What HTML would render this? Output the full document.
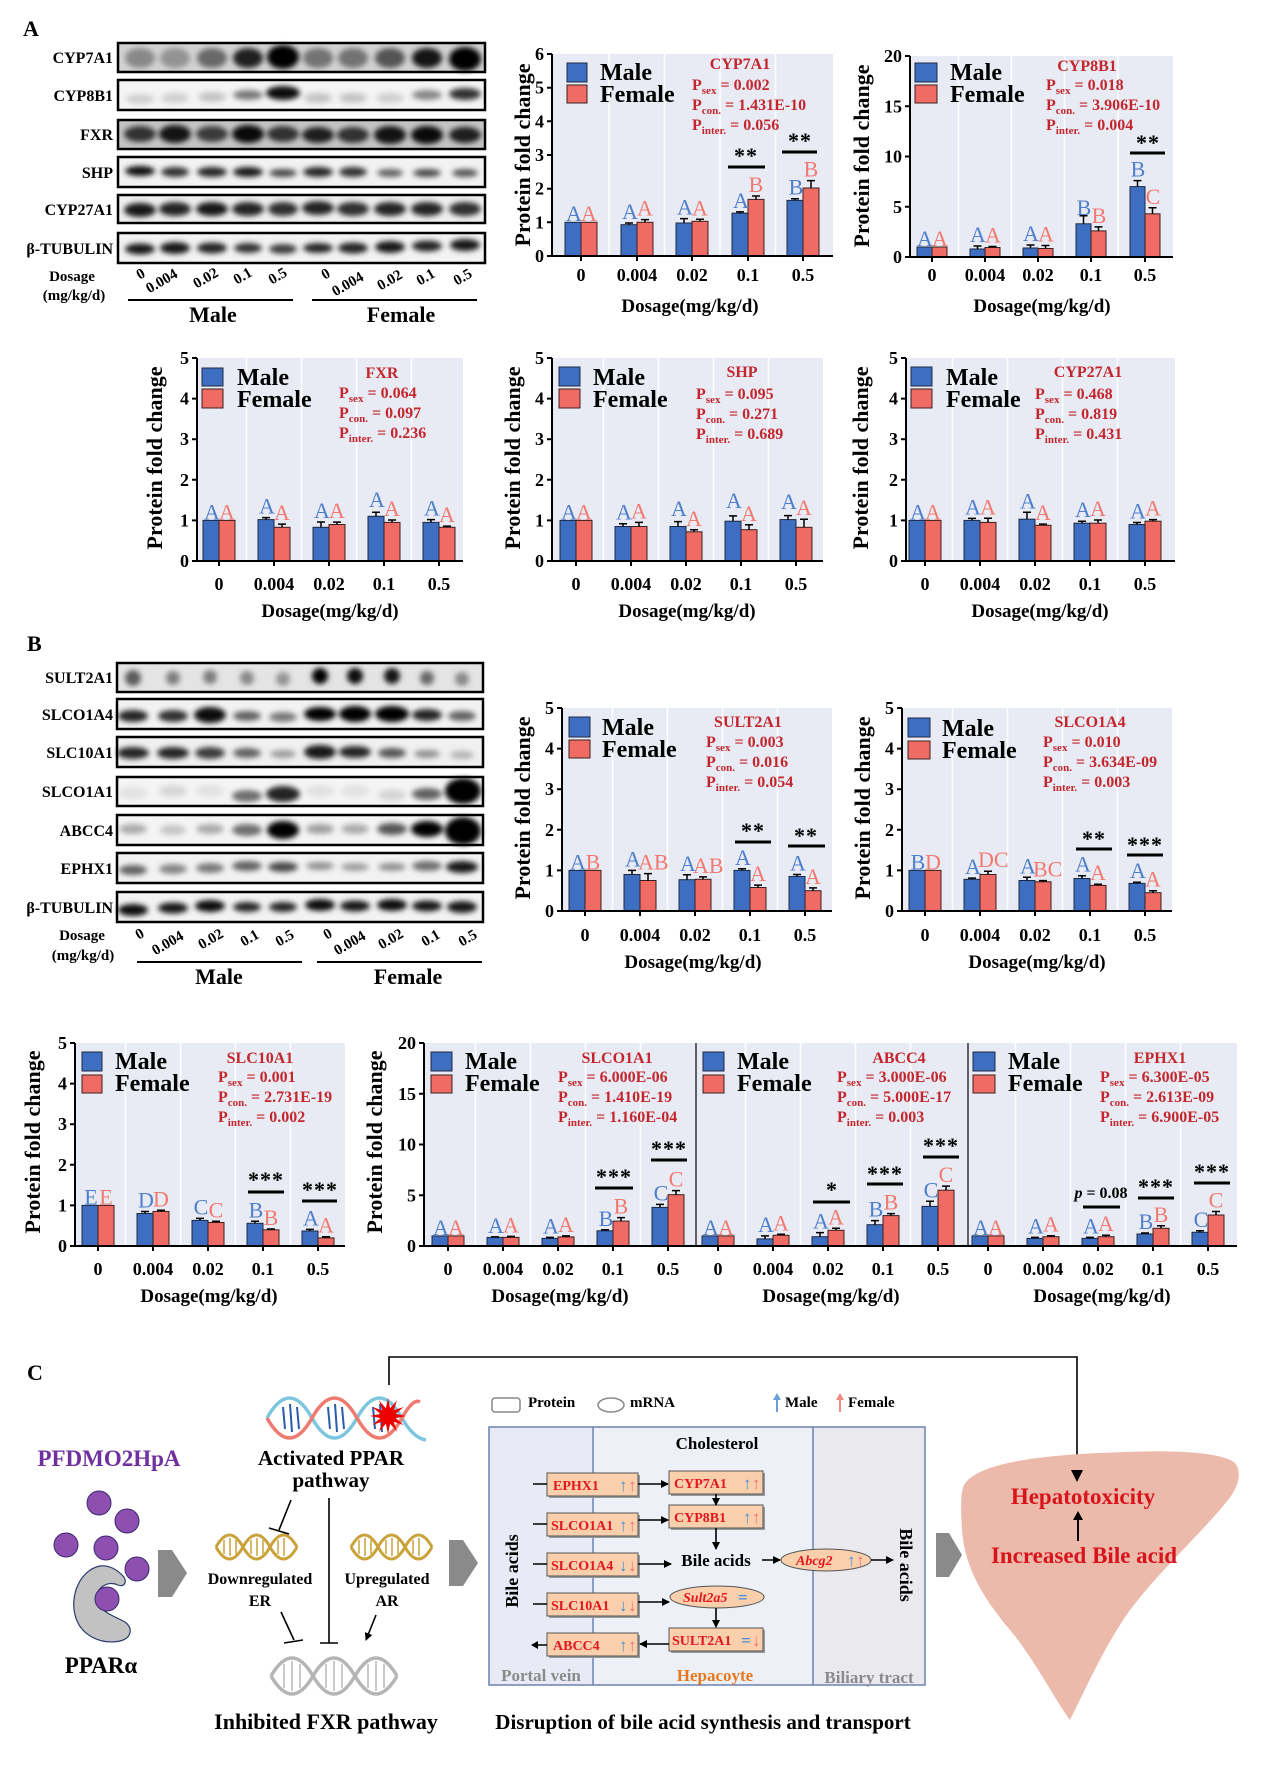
<!DOCTYPE html>
<html><head><meta charset="utf-8">
<style>
html,body{margin:0;padding:0;background:#fff}
svg{display:block}
svg text{font-family:"Liberation Serif","DejaVu Serif",serif;font-weight:bold}
.tk{font-size:18px}
.xt{font-size:19px}
.yl{font-size:22px}
.lg{font-size:24px}
.s{font-size:16px;fill:#c3262c}
.s tspan:first-child{font-size:11px}
.m{fill:#3e6ec1;stroke:#1c2a44;stroke-width:1}
.f{fill:#ef6b63;stroke:#3a2020;stroke-width:1}
.ml{fill:#4d7fcc;font-weight:normal!important;font-size:22px}
.fl{fill:#f27970;font-weight:normal!important;font-size:22px}
.ax{stroke:#000;stroke-width:2;fill:none}
.er{stroke:#000;stroke-width:1.5;fill:none}
.sg{stroke:#000;stroke-width:3}
.ast{font-size:22px;letter-spacing:1px}
.bl{font-size:16px}
.bx{fill:none;stroke:#000;stroke-width:2.5}
.dl{font-size:15px}
.pb{fill:#f9cfac;stroke:#555;stroke-width:1}
.pt{font-size:14px;fill:#e3161d}
.ln{stroke:#000;stroke-width:1.6;fill:none}
</style></head>
<body>
<svg width="1271" height="1770" viewBox="0 0 1271 1770" xmlns="http://www.w3.org/2000/svg">
<defs>
<filter id="bl" x="-60%" y="-60%" width="220%" height="220%"><feGaussianBlur stdDeviation="2.6"/></filter>
<marker id="ah" markerWidth="8" markerHeight="8" refX="7" refY="4" orient="auto" markerUnits="userSpaceOnUse"><path d="M0,0 L8,4 L0,8 z" fill="#000"/></marker>
</defs>
<rect width="1271" height="1770" fill="#fff"/>

<!-- ============ SECTION A BLOTS ============ -->
<text x="23" y="36" style="font-size:22px">A</text>
<g text-anchor="end" class="bl">
<text x="113" y="63" class="bl">CYP7A1</text>
<text x="113" y="101" class="bl">CYP8B1</text>
<text x="113" y="140" class="bl">FXR</text>
<text x="113" y="178" class="bl">SHP</text>
<text x="113" y="215" class="bl">CYP27A1</text>
<text x="113" y="254" class="bl">β-TUBULIN</text>
</g>
<rect x="118" y="43" width="367" height="29" fill="#d2d2d2"/>
<rect x="118" y="80" width="367" height="30" fill="#f4f4f4"/>
<rect x="118" y="120" width="367" height="29" fill="#c4c4c4"/>
<rect x="118" y="157" width="367" height="30" fill="#f2f2f2"/>
<rect x="118" y="195" width="367" height="28" fill="#eeeeee"/>
<rect x="118" y="233" width="367" height="30" fill="#f2f2f2"/>
<g filter="url(#bl)" fill="#000">
<ellipse cx="140" cy="58" rx="15" ry="10" opacity="0.35"/>
<ellipse cx="175" cy="58" rx="15" ry="10" opacity="0.3"/>
<ellipse cx="212" cy="58" rx="15" ry="10" opacity="0.5"/>
<ellipse cx="248" cy="58" rx="15" ry="10" opacity="0.85"/>
<ellipse cx="283" cy="57" rx="16" ry="12" opacity="1"/>
<ellipse cx="318" cy="58" rx="15" ry="10" opacity="0.45"/>
<ellipse cx="353" cy="58" rx="15" ry="10" opacity="0.45"/>
<ellipse cx="390" cy="58" rx="15" ry="10" opacity="0.6"/>
<ellipse cx="427" cy="58" rx="15" ry="10" opacity="0.9"/>
<ellipse cx="465" cy="59" rx="16" ry="12" opacity="1"/>
<ellipse cx="140" cy="99" rx="14" ry="5" opacity="0.15"/>
<ellipse cx="175" cy="98" rx="14" ry="5" opacity="0.15"/>
<ellipse cx="212" cy="97" rx="14" ry="5" opacity="0.2"/>
<ellipse cx="248" cy="95" rx="15" ry="5" opacity="0.5"/>
<ellipse cx="283" cy="93" rx="17" ry="7" opacity="0.95"/>
<ellipse cx="318" cy="98" rx="14" ry="5" opacity="0.2"/>
<ellipse cx="353" cy="98" rx="14" ry="5" opacity="0.2"/>
<ellipse cx="390" cy="98" rx="14" ry="5" opacity="0.15"/>
<ellipse cx="427" cy="95" rx="15" ry="5" opacity="0.45"/>
<ellipse cx="465" cy="94" rx="16" ry="6" opacity="0.8"/>
<ellipse cx="140" cy="134" rx="16" ry="8" opacity="0.75"/>
<ellipse cx="175" cy="134" rx="16" ry="9" opacity="0.9"/>
<ellipse cx="212" cy="134" rx="16" ry="8" opacity="0.7"/>
<ellipse cx="248" cy="134" rx="16" ry="9" opacity="0.95"/>
<ellipse cx="283" cy="134" rx="16" ry="8" opacity="0.75"/>
<ellipse cx="318" cy="135" rx="16" ry="8" opacity="0.85"/>
<ellipse cx="353" cy="135" rx="16" ry="8" opacity="0.75"/>
<ellipse cx="390" cy="135" rx="16" ry="9" opacity="0.9"/>
<ellipse cx="427" cy="135" rx="16" ry="9" opacity="0.95"/>
<ellipse cx="465" cy="135" rx="16" ry="8" opacity="0.85"/>
<ellipse cx="140" cy="171" rx="15" ry="5" opacity="0.95"/>
<ellipse cx="175" cy="172" rx="14" ry="5" opacity="0.8"/>
<ellipse cx="212" cy="172" rx="15" ry="5" opacity="0.85"/>
<ellipse cx="248" cy="172" rx="15" ry="5" opacity="0.9"/>
<ellipse cx="283" cy="173" rx="14" ry="4" opacity="0.7"/>
<ellipse cx="318" cy="172" rx="15" ry="5" opacity="0.85"/>
<ellipse cx="353" cy="172" rx="14" ry="5" opacity="0.8"/>
<ellipse cx="390" cy="173" rx="13" ry="4" opacity="0.6"/>
<ellipse cx="427" cy="173" rx="14" ry="4" opacity="0.7"/>
<ellipse cx="465" cy="173" rx="13" ry="4" opacity="0.65"/>
<ellipse cx="140" cy="210" rx="16" ry="7" opacity="0.9"/>
<ellipse cx="175" cy="209" rx="16" ry="7" opacity="0.85"/>
<ellipse cx="212" cy="209" rx="16" ry="7" opacity="0.9"/>
<ellipse cx="248" cy="209" rx="16" ry="7" opacity="0.85"/>
<ellipse cx="283" cy="209" rx="15" ry="7" opacity="0.8"/>
<ellipse cx="318" cy="208" rx="16" ry="7" opacity="0.85"/>
<ellipse cx="353" cy="209" rx="16" ry="7" opacity="0.8"/>
<ellipse cx="390" cy="209" rx="16" ry="7" opacity="0.85"/>
<ellipse cx="427" cy="209" rx="16" ry="7" opacity="0.85"/>
<ellipse cx="465" cy="209" rx="16" ry="7" opacity="0.8"/>
<ellipse cx="140" cy="249" rx="15" ry="5.5" opacity="0.9"/>
<ellipse cx="175" cy="248" rx="15" ry="6" opacity="0.9"/>
<ellipse cx="212" cy="248" rx="15" ry="5.5" opacity="0.85"/>
<ellipse cx="248" cy="248" rx="14" ry="5" opacity="0.8"/>
<ellipse cx="283" cy="249" rx="14" ry="5" opacity="0.75"/>
<ellipse cx="318" cy="248" rx="15" ry="5" opacity="0.85"/>
<ellipse cx="353" cy="248" rx="15" ry="5.5" opacity="0.85"/>
<ellipse cx="390" cy="247" rx="15" ry="6" opacity="0.9"/>
<ellipse cx="427" cy="246" rx="15" ry="5.5" opacity="0.85"/>
<ellipse cx="465" cy="245" rx="15" ry="6" opacity="0.9"/>
</g>
<rect x="118" y="43" width="367" height="29" class="bx"/>
<rect x="118" y="80" width="367" height="30" class="bx"/>
<rect x="118" y="120" width="367" height="29" class="bx"/>
<rect x="118" y="157" width="367" height="30" class="bx"/>
<rect x="118" y="195" width="367" height="28" class="bx"/>
<rect x="118" y="233" width="367" height="30" class="bx"/>
<text x="72" y="281" text-anchor="middle" class="dl">Dosage</text>
<text x="74" y="300" text-anchor="middle" class="dl">(mg/kg/d)</text>
<g class="dl" text-anchor="middle">
<text transform="translate(143,278) rotate(-30)" class="dl">0</text>
<text transform="translate(164,285) rotate(-30)" class="dl">0.004</text>
<text transform="translate(208,282) rotate(-30)" class="dl">0.02</text>
<text transform="translate(245,280) rotate(-30)" class="dl">0.1</text>
<text transform="translate(280,280) rotate(-30)" class="dl">0.5</text>
<text transform="translate(328,278) rotate(-30)" class="dl">0</text>
<text transform="translate(350,288) rotate(-30)" class="dl">0.004</text>
<text transform="translate(392,284) rotate(-30)" class="dl">0.02</text>
<text transform="translate(428,281) rotate(-30)" class="dl">0.1</text>
<text transform="translate(465,281) rotate(-30)" class="dl">0.5</text>
</g>
<path d="M128 300H293M312 300H477" stroke="#000" stroke-width="2"/>
<text x="213" y="322" text-anchor="middle" style="font-size:22px">Male</text>
<text x="401" y="322" text-anchor="middle" style="font-size:22px">Female</text>

<!-- ============ CHART CYP7A1 ============ -->
<rect x="553" y="54" width="280" height="201" fill="#e9ebf4"/>
<path d="M609 54V256M664.5 54V256M720 54V256M775.5 54V256" stroke="#fff" stroke-width="1.5"/>
<rect class="m" x="565" y="222.3" width="16" height="33.7"/>
<rect class="m" x="621" y="224.7" width="16" height="31.3"/>
<rect class="m" x="676" y="223" width="16" height="33"/>
<rect class="m" x="732" y="213.2" width="16" height="42.8"/>
<rect class="m" x="787" y="200.4" width="16" height="55.6"/>
<rect class="f" x="581" y="222.3" width="16" height="33.7"/>
<rect class="f" x="637" y="222.3" width="16" height="33.7"/>
<rect class="f" x="692" y="221.3" width="16" height="34.7"/>
<rect class="f" x="748" y="199.4" width="16" height="56.6"/>
<rect class="f" x="803" y="188" width="16" height="68"/>
<path class="er" d="M629 224.7V223M625 223H633M684 223V218.6M680 218.6H688M740 213.2V211.9M736 211.9H744M795 200.4V198.7M791 198.7H799M645 222.3V219.6M641 219.6H649M700 221.3V219.3M696 219.3H704M756 199.4V196M752 196H760M811 188V180.6M807 180.6H815"/>
<path class="ax" d="M552 54V256H833M547 256H552M547 222.3H552M547 188.7H552M547 155H552M547 121.3H552M547 87.7H552M547 54H552M581 256V261M637 256V261M692 256V261M748 256V261M803 256V261"/>
<g text-anchor="middle">
<text class="ml" x="574" y="221">A</text><text class="fl" x="589" y="221">A</text>
<text class="ml" x="630" y="219">A</text><text class="fl" x="645" y="215.6">A</text>
<text class="ml" x="685" y="214.6">A</text><text class="fl" x="700" y="215.3">A</text>
<text class="ml" x="741" y="208">A</text><text class="fl" x="756" y="192">B</text>
<text class="ml" x="796" y="194.7">B</text><text class="fl" x="811" y="176.6">B</text>
<text class="ast" x="746" y="163">**</text><text class="ast" x="800" y="148">**</text>
</g>
<path class="sg" d="M728 167H765M782 152H817"/>
<g class="tk" text-anchor="end"><text class="tk" x="544" y="262">0</text><text class="tk" x="544" y="228.3">1</text><text class="tk" x="544" y="194.7">2</text><text class="tk" x="544" y="161">3</text><text class="tk" x="544" y="127.3">4</text><text class="tk" x="544" y="93.7">5</text><text class="tk" x="544" y="60">6</text></g>
<g text-anchor="middle"><text class="tk" x="581" y="281">0</text><text class="tk" x="637" y="281">0.004</text><text class="tk" x="692" y="281">0.02</text><text class="tk" x="748" y="281">0.1</text><text class="tk" x="803" y="281">0.5</text></g>
<text class="xt" x="690" y="312" text-anchor="middle">Dosage(mg/kg/d)</text>
<text class="yl" transform="translate(530,155) rotate(-90)" text-anchor="middle">Protein fold change</text>
<rect class="m" x="567" y="63" width="20" height="19"/><rect class="f" x="567" y="85" width="20" height="18"/>
<text class="lg" x="600" y="80">Male</text><text class="lg" x="600" y="102">Female</text>
<text class="s" x="740" y="69" text-anchor="middle">CYP7A1</text>
<text class="s" x="692" y="90">P<tspan font-size="11" dy="4">sex</tspan><tspan dy="-4"> = 0.002</tspan></text>
<text class="s" x="692" y="110">P<tspan font-size="11" dy="4">con.</tspan><tspan dy="-4"> = 1.431E-10</tspan></text>
<text class="s" x="692" y="130">P<tspan font-size="11" dy="4">inter.</tspan><tspan dy="-4"> = 0.056</tspan></text>

<!-- ============ CHART CYP8B1 ============ -->
<rect x="911" y="56" width="262" height="200" fill="#e9ebf4"/>
<path d="M958.5 56V257M1011.5 56V257M1064.5 56V257M1118 56V257" stroke="#fff" stroke-width="1.5"/>
<rect class="m" x="917" y="247" width="15" height="10"/>
<rect class="m" x="970" y="249" width="15" height="8"/>
<rect class="m" x="1023" y="248" width="15" height="9"/>
<rect class="m" x="1076" y="223.8" width="15" height="33.2"/>
<rect class="m" x="1130" y="186.6" width="15" height="70.4"/>
<rect class="f" x="932" y="247" width="15" height="10"/>
<rect class="f" x="985" y="247.5" width="15" height="9.5"/>
<rect class="f" x="1038" y="248.5" width="15" height="8.5"/>
<rect class="f" x="1091" y="230.9" width="15" height="26.1"/>
<rect class="f" x="1145" y="213.8" width="15" height="43.2"/>
<path class="er" d="M977.5 249V246M973.5 246H981.5M1030.5 248V245M1026.5 245H1034.5M1083.5 223.8V215.8M1079.5 215.8H1087.5M1137.5 186.6V180.6M1133.5 180.6H1141.5M992.5 247.5V246.5M988.5 246.5H996.5M1045.5 248.5V245.5M1041.5 245.5H1049.5M1098.5 230.9V226.9M1094.5 226.9H1102.5M1152.5 213.8V207.8M1148.5 207.8H1156.5"/>
<path class="ax" d="M910 56V257H1173M905 257H910M905 206.75H910M905 156.5H910M905 106.25H910M905 56H910M932 257V262M985 257V262M1038 257V262M1091 257V262M1145 257V262"/>
<g text-anchor="middle">
<text class="ml" x="925" y="246">A</text><text class="fl" x="940" y="246">A</text>
<text class="ml" x="978" y="242">A</text><text class="fl" x="993" y="242.5">A</text>
<text class="ml" x="1031" y="241">A</text><text class="fl" x="1046" y="241.5">A</text>
<text class="ml" x="1084" y="215">B</text><text class="fl" x="1099" y="223">B</text>
<text class="ml" x="1138" y="176.6">B</text><text class="fl" x="1153" y="203.8">C</text>
<text class="ast" x="1148" y="150">**</text>
</g>
<path class="sg" d="M1130 153H1165"/>
<g text-anchor="end"><text class="tk" x="902" y="263">0</text><text class="tk" x="902" y="212.75">5</text><text class="tk" x="902" y="162.5">10</text><text class="tk" x="902" y="112.25">15</text><text class="tk" x="902" y="62">20</text></g>
<g text-anchor="middle"><text class="tk" x="932" y="281">0</text><text class="tk" x="985" y="281">0.004</text><text class="tk" x="1038" y="281">0.02</text><text class="tk" x="1091" y="281">0.1</text><text class="tk" x="1145" y="281">0.5</text></g>
<text class="xt" x="1042" y="312" text-anchor="middle">Dosage(mg/kg/d)</text>
<text class="yl" transform="translate(869,156) rotate(-90)" text-anchor="middle">Protein fold change</text>
<rect class="m" x="915" y="63" width="22" height="19"/><rect class="f" x="915" y="85" width="22" height="18"/>
<text class="lg" x="950" y="80">Male</text><text class="lg" x="950" y="102">Female</text>
<text class="s" x="1087" y="71" text-anchor="middle">CYP8B1</text>
<text class="s" x="1046" y="90">P<tspan font-size="11" dy="4">sex</tspan><tspan dy="-4"> = 0.018</tspan></text>
<text class="s" x="1046" y="110">P<tspan font-size="11" dy="4">con.</tspan><tspan dy="-4"> = 3.906E-10</tspan></text>
<text class="s" x="1046" y="130">P<tspan font-size="11" dy="4">inter.</tspan><tspan dy="-4"> = 0.004</tspan></text>

<!-- ============ CHART FXR ============ -->
<rect x="198" y="358" width="265" height="202" fill="#e9ebf4"/>
<path d="M246.5 358V561M301.5 358V561M356.5 358V561M411.5 358V561" stroke="#fff" stroke-width="1.5"/>
<rect class="m" x="203" y="520.4" width="16" height="40.6"/>
<rect class="m" x="258" y="519.6" width="16" height="41.4"/>
<rect class="m" x="313" y="527.3" width="16" height="33.7"/>
<rect class="m" x="368" y="516.3" width="16" height="44.7"/>
<rect class="m" x="423" y="522.4" width="16" height="38.6"/>
<rect class="f" x="219" y="520.4" width="16" height="40.6"/>
<rect class="f" x="274" y="527.3" width="16" height="33.7"/>
<rect class="f" x="329" y="524.5" width="16" height="36.5"/>
<rect class="f" x="384" y="522.4" width="16" height="38.6"/>
<rect class="f" x="439" y="527.3" width="16" height="33.7"/>
<path class="er" d="M266 519.6V517.6M262 517.6H270M321 527.3V522M317 522H325M376 516.3V512.3M372 512.3H380M431 522.4V519.6M427 519.6H435M282 527.3V524.1M278 524.1H286M337 524.5V522.1M333 522.1H341M392 522.4V520M388 520H396M447 527.3V526.1M443 526.1H451"/>
<path class="ax" d="M197 358V561H463M192 561H197M192 520.4H197M192 479.8H197M192 439.2H197M192 398.6H197M192 358H197M219 561V566M274 561V566M329 561V566M384 561V566M439 561V566"/>
<g text-anchor="middle">
<text class="ml" x="212" y="519.4">A</text><text class="fl" x="227" y="519.4">A</text>
<text class="ml" x="267" y="513.6">A</text><text class="fl" x="282" y="520.1">A</text>
<text class="ml" x="322" y="518">A</text><text class="fl" x="337" y="518.1">A</text>
<text class="ml" x="377" y="507">A</text><text class="fl" x="392" y="516">A</text>
<text class="ml" x="432" y="515.6">A</text><text class="fl" x="447" y="522.1">A</text>
</g>
<g text-anchor="end"><text class="tk" x="189" y="567">0</text><text class="tk" x="189" y="526.4">1</text><text class="tk" x="189" y="485.8">2</text><text class="tk" x="189" y="445.2">3</text><text class="tk" x="189" y="404.6">4</text><text class="tk" x="189" y="364">5</text></g>
<g text-anchor="middle"><text class="tk" x="219" y="590">0</text><text class="tk" x="274" y="590">0.004</text><text class="tk" x="329" y="590">0.02</text><text class="tk" x="384" y="590">0.1</text><text class="tk" x="439" y="590">0.5</text></g>
<text class="xt" x="330" y="617" text-anchor="middle">Dosage(mg/kg/d)</text>
<text class="yl" transform="translate(162,458) rotate(-90)" text-anchor="middle">Protein fold change</text>
<rect class="m" x="202" y="368" width="21" height="18"/><rect class="f" x="202" y="389" width="21" height="19"/>
<text class="lg" x="237" y="385">Male</text><text class="lg" x="237" y="407">Female</text>
<text class="s" x="382" y="378" text-anchor="middle">FXR</text>
<text class="s" x="339" y="398">P<tspan font-size="11" dy="4">sex</tspan><tspan dy="-4"> = 0.064</tspan></text>
<text class="s" x="339" y="418">P<tspan font-size="11" dy="4">con.</tspan><tspan dy="-4"> = 0.097</tspan></text>
<text class="s" x="339" y="438">P<tspan font-size="11" dy="4">inter.</tspan><tspan dy="-4"> = 0.236</tspan></text>

<!-- ============ CHART SHP ============ -->
<rect x="553" y="358" width="270" height="202" fill="#e9ebf4"/>
<path d="M603.5 358V561M658.5 358V561M713.5 358V561M768.5 358V561" stroke="#fff" stroke-width="1.5"/>
<rect class="m" x="560" y="520.4" width="16" height="40.6"/>
<rect class="m" x="615" y="526.5" width="16" height="34.5"/>
<rect class="m" x="670" y="526.5" width="16" height="34.5"/>
<rect class="m" x="725" y="521.2" width="16" height="39.8"/>
<rect class="m" x="780" y="519.6" width="16" height="41.4"/>
<rect class="f" x="576" y="520.4" width="16" height="40.6"/>
<rect class="f" x="631" y="526.5" width="16" height="34.5"/>
<rect class="f" x="686" y="531.8" width="16" height="29.2"/>
<rect class="f" x="741" y="529.7" width="16" height="31.3"/>
<rect class="f" x="796" y="527.3" width="16" height="33.7"/>
<path class="er" d="M623 526.5V523.7M619 523.7H627M678 526.5V521.6M674 521.6H682M733 521.2V515.9M729 515.9H737M788 519.6V515.6M784 515.6H792M639 526.5V522.4M635 522.4H643M694 531.8V529.8M690 529.8H698M749 529.7V524.8M745 524.8H753M804 527.3V519.2M800 519.2H808"/>
<path class="ax" d="M552 358V561H823M547 561H552M547 520.4H552M547 479.8H552M547 439.2H552M547 398.6H552M547 358H552M576 561V566M631 561V566M686 561V566M741 561V566M796 561V566"/>
<g text-anchor="middle">
<text class="ml" x="569" y="519.4">A</text><text class="fl" x="584" y="519.4">A</text>
<text class="ml" x="624" y="519.7">A</text><text class="fl" x="639" y="518.4">A</text>
<text class="ml" x="679" y="516">A</text><text class="fl" x="694" y="525.8">A</text>
<text class="ml" x="734" y="508">A</text><text class="fl" x="749" y="520.8">A</text>
<text class="ml" x="789" y="509">A</text><text class="fl" x="804" y="515.2">A</text>
</g>
<g text-anchor="end"><text class="tk" x="544" y="567">0</text><text class="tk" x="544" y="526.4">1</text><text class="tk" x="544" y="485.8">2</text><text class="tk" x="544" y="445.2">3</text><text class="tk" x="544" y="404.6">4</text><text class="tk" x="544" y="364">5</text></g>
<g text-anchor="middle"><text class="tk" x="576" y="590">0</text><text class="tk" x="631" y="590">0.004</text><text class="tk" x="686" y="590">0.02</text><text class="tk" x="741" y="590">0.1</text><text class="tk" x="796" y="590">0.5</text></g>
<text class="xt" x="687" y="617" text-anchor="middle">Dosage(mg/kg/d)</text>
<text class="yl" transform="translate(520,458) rotate(-90)" text-anchor="middle">Protein fold change</text>
<rect class="m" x="559" y="367" width="21" height="19"/><rect class="f" x="559" y="389" width="21" height="19"/>
<text class="lg" x="593" y="385">Male</text><text class="lg" x="593" y="407">Female</text>
<text class="s" x="742" y="377" text-anchor="middle">SHP</text>
<text class="s" x="696" y="399">P<tspan font-size="11" dy="4">sex</tspan><tspan dy="-4"> = 0.095</tspan></text>
<text class="s" x="696" y="419">P<tspan font-size="11" dy="4">con.</tspan><tspan dy="-4"> = 0.271</tspan></text>
<text class="s" x="696" y="439">P<tspan font-size="11" dy="4">inter.</tspan><tspan dy="-4"> = 0.689</tspan></text>

<!-- ============ CHART CYP27A1 ============ -->
<rect x="907" y="358" width="268" height="202" fill="#e9ebf4"/>
<path d="M952.5 358V561M1007.5 358V561M1062.5 358V561M1117.5 358V561" stroke="#fff" stroke-width="1.5"/>
<rect class="m" x="909" y="520.4" width="16" height="40.6"/>
<rect class="m" x="964" y="520.4" width="16" height="40.6"/>
<rect class="m" x="1019" y="519.2" width="16" height="41.8"/>
<rect class="m" x="1074" y="523.2" width="16" height="37.8"/>
<rect class="m" x="1129" y="524.5" width="16" height="36.5"/>
<rect class="f" x="925" y="520.4" width="16" height="40.6"/>
<rect class="f" x="980" y="522.4" width="16" height="38.6"/>
<rect class="f" x="1035" y="525.3" width="16" height="35.7"/>
<rect class="f" x="1090" y="523.2" width="16" height="37.8"/>
<rect class="f" x="1145" y="521.2" width="16" height="39.8"/>
<path class="er" d="M972 520.4V518.4M968 518.4H976M1027 519.2V512.3M1023 512.3H1031M1082 523.2V521.2M1078 521.2H1086M1137 524.5V522.5M1133 522.5H1141M988 522.4V518.3M984 518.3H992M1043 525.3V524.1M1039 524.1H1047M1098 523.2V520M1094 520H1102M1153 521.2V519.6M1149 519.6H1157"/>
<path class="ax" d="M906 358V561H1175M901 561H906M901 520.4H906M901 479.8H906M901 439.2H906M901 398.6H906M901 358H906M925 561V566M980 561V566M1035 561V566M1090 561V566M1145 561V566"/>
<g text-anchor="middle">
<text class="ml" x="918" y="519.4">A</text><text class="fl" x="933" y="519.4">A</text>
<text class="ml" x="973" y="514.4">A</text><text class="fl" x="988" y="514.3">A</text>
<text class="ml" x="1028" y="508.3">A</text><text class="fl" x="1043" y="520.1">A</text>
<text class="ml" x="1083" y="517.2">A</text><text class="fl" x="1098" y="516">A</text>
<text class="ml" x="1138" y="518.5">A</text><text class="fl" x="1153" y="515.6">A</text>
</g>
<g text-anchor="end"><text class="tk" x="898" y="567">0</text><text class="tk" x="898" y="526.4">1</text><text class="tk" x="898" y="485.8">2</text><text class="tk" x="898" y="445.2">3</text><text class="tk" x="898" y="404.6">4</text><text class="tk" x="898" y="364">5</text></g>
<g text-anchor="middle"><text class="tk" x="925" y="590">0</text><text class="tk" x="980" y="590">0.004</text><text class="tk" x="1035" y="590">0.02</text><text class="tk" x="1090" y="590">0.1</text><text class="tk" x="1145" y="590">0.5</text></g>
<text class="xt" x="1040" y="617" text-anchor="middle">Dosage(mg/kg/d)</text>
<text class="yl" transform="translate(868,458) rotate(-90)" text-anchor="middle">Protein fold change</text>
<rect class="m" x="911" y="367" width="21" height="19"/><rect class="f" x="911" y="389" width="21" height="19"/>
<text class="lg" x="946" y="385">Male</text><text class="lg" x="946" y="407">Female</text>
<text class="s" x="1088" y="377" text-anchor="middle">CYP27A1</text>
<text class="s" x="1035" y="399">P<tspan font-size="11" dy="4">sex</tspan><tspan dy="-4"> = 0.468</tspan></text>
<text class="s" x="1035" y="419">P<tspan font-size="11" dy="4">con.</tspan><tspan dy="-4"> = 0.819</tspan></text>
<text class="s" x="1035" y="439">P<tspan font-size="11" dy="4">inter.</tspan><tspan dy="-4"> = 0.431</tspan></text>

<!-- ============ SECTION B BLOTS ============ -->
<text x="27" y="651" style="font-size:22px">B</text>
<g text-anchor="end">
<text x="113" y="683" class="bl">SULT2A1</text>
<text x="113" y="720" class="bl">SLCO1A4</text>
<text x="113" y="758" class="bl">SLC10A1</text>
<text x="113" y="797" class="bl">SLCO1A1</text>
<text x="113" y="836" class="bl">ABCC4</text>
<text x="113" y="874" class="bl">EPHX1</text>
<text x="113" y="913" class="bl">β-TUBULIN</text>
</g>
<rect x="117" y="663" width="366" height="29" fill="#e4e4e4"/>
<rect x="117" y="699" width="366" height="30" fill="#f2f2f2"/>
<rect x="117" y="737" width="366" height="30" fill="#f0f0f0"/>
<rect x="117" y="777" width="366" height="29" fill="#f4f4f4"/>
<rect x="117" y="815" width="366" height="30" fill="#f4f4f4"/>
<rect x="117" y="853" width="366" height="30" fill="#f2f2f2"/>
<rect x="117" y="892" width="366" height="30" fill="#f2f2f2"/>
<g filter="url(#bl)" fill="#000">
<ellipse cx="133" cy="678" rx="8" ry="8" opacity="0.6"/>
<ellipse cx="173" cy="678" rx="7" ry="7" opacity="0.45"/>
<ellipse cx="210" cy="677" rx="7" ry="7" opacity="0.45"/>
<ellipse cx="247" cy="678" rx="7" ry="7" opacity="0.4"/>
<ellipse cx="283" cy="679" rx="7" ry="7" opacity="0.35"/>
<ellipse cx="320" cy="676" rx="8" ry="8" opacity="1"/>
<ellipse cx="355" cy="676" rx="8" ry="8" opacity="0.95"/>
<ellipse cx="392" cy="676" rx="8" ry="8" opacity="0.9"/>
<ellipse cx="427" cy="678" rx="7" ry="7" opacity="0.55"/>
<ellipse cx="462" cy="679" rx="7" ry="7" opacity="0.4"/>
<ellipse cx="133" cy="716" rx="15" ry="6" opacity="0.85"/>
<ellipse cx="173" cy="716" rx="15" ry="6" opacity="0.8"/>
<ellipse cx="210" cy="715" rx="16" ry="8" opacity="0.95"/>
<ellipse cx="247" cy="716" rx="14" ry="5" opacity="0.6"/>
<ellipse cx="283" cy="717" rx="14" ry="5" opacity="0.5"/>
<ellipse cx="320" cy="714" rx="16" ry="7" opacity="1"/>
<ellipse cx="355" cy="714" rx="16" ry="8" opacity="1"/>
<ellipse cx="392" cy="714" rx="17" ry="8" opacity="1"/>
<ellipse cx="427" cy="715" rx="15" ry="6" opacity="0.85"/>
<ellipse cx="462" cy="716" rx="14" ry="5" opacity="0.6"/>
<ellipse cx="133" cy="753" rx="16" ry="6" opacity="0.85"/>
<ellipse cx="173" cy="753" rx="16" ry="6" opacity="0.85"/>
<ellipse cx="210" cy="753" rx="15" ry="6" opacity="0.75"/>
<ellipse cx="247" cy="753" rx="14" ry="5" opacity="0.6"/>
<ellipse cx="283" cy="754" rx="13" ry="4" opacity="0.35"/>
<ellipse cx="320" cy="752" rx="16" ry="7" opacity="0.9"/>
<ellipse cx="355" cy="752" rx="16" ry="6" opacity="0.85"/>
<ellipse cx="392" cy="753" rx="14" ry="5" opacity="0.65"/>
<ellipse cx="427" cy="754" rx="13" ry="4" opacity="0.4"/>
<ellipse cx="462" cy="755" rx="12" ry="4" opacity="0.25"/>
<ellipse cx="133" cy="793" rx="14" ry="6" opacity="0.08"/>
<ellipse cx="173" cy="791" rx="14" ry="6" opacity="0.12"/>
<ellipse cx="210" cy="791" rx="14" ry="6" opacity="0.08"/>
<ellipse cx="247" cy="796" rx="15" ry="6" opacity="0.55"/>
<ellipse cx="283" cy="794" rx="17" ry="8" opacity="0.85"/>
<ellipse cx="320" cy="791" rx="14" ry="6" opacity="0.08"/>
<ellipse cx="355" cy="791" rx="14" ry="6" opacity="0.08"/>
<ellipse cx="392" cy="795" rx="14" ry="6" opacity="0.12"/>
<ellipse cx="427" cy="794" rx="15" ry="6" opacity="0.6"/>
<ellipse cx="463" cy="791" rx="18" ry="13" opacity="1"/>
<ellipse cx="133" cy="829" rx="14" ry="5" opacity="0.3"/>
<ellipse cx="173" cy="830" rx="13" ry="5" opacity="0.2"/>
<ellipse cx="210" cy="829" rx="14" ry="5" opacity="0.3"/>
<ellipse cx="247" cy="830" rx="15" ry="6" opacity="0.55"/>
<ellipse cx="283" cy="830" rx="16" ry="9" opacity="1"/>
<ellipse cx="320" cy="829" rx="14" ry="5" opacity="0.35"/>
<ellipse cx="355" cy="829" rx="14" ry="5" opacity="0.3"/>
<ellipse cx="392" cy="829" rx="15" ry="6" opacity="0.65"/>
<ellipse cx="427" cy="829" rx="16" ry="8" opacity="1"/>
<ellipse cx="463" cy="831" rx="18" ry="14" opacity="1"/>
<ellipse cx="133" cy="870" rx="14" ry="5" opacity="0.6"/>
<ellipse cx="173" cy="869" rx="14" ry="5" opacity="0.45"/>
<ellipse cx="210" cy="868" rx="14" ry="5" opacity="0.5"/>
<ellipse cx="247" cy="866" rx="15" ry="5" opacity="0.6"/>
<ellipse cx="283" cy="867" rx="15" ry="5" opacity="0.7"/>
<ellipse cx="320" cy="866" rx="14" ry="4" opacity="0.4"/>
<ellipse cx="355" cy="867" rx="14" ry="4" opacity="0.35"/>
<ellipse cx="392" cy="867" rx="14" ry="4" opacity="0.4"/>
<ellipse cx="427" cy="866" rx="15" ry="5" opacity="0.55"/>
<ellipse cx="462" cy="867" rx="16" ry="6" opacity="0.9"/>
<ellipse cx="133" cy="910" rx="15" ry="6" opacity="0.95"/>
<ellipse cx="173" cy="908" rx="15" ry="5.5" opacity="0.9"/>
<ellipse cx="210" cy="906" rx="15" ry="6" opacity="0.95"/>
<ellipse cx="247" cy="907" rx="14" ry="5" opacity="0.85"/>
<ellipse cx="283" cy="907" rx="14" ry="5" opacity="0.85"/>
<ellipse cx="320" cy="905" rx="15" ry="6" opacity="0.95"/>
<ellipse cx="355" cy="906" rx="15" ry="5.5" opacity="0.9"/>
<ellipse cx="392" cy="905" rx="15" ry="6" opacity="0.95"/>
<ellipse cx="427" cy="906" rx="15" ry="5.5" opacity="0.9"/>
<ellipse cx="462" cy="907" rx="15" ry="6" opacity="0.9"/>
</g>
<rect x="117" y="663" width="366" height="29" class="bx"/>
<rect x="117" y="699" width="366" height="30" class="bx"/>
<rect x="117" y="737" width="366" height="30" class="bx"/>
<rect x="117" y="777" width="366" height="29" class="bx"/>
<rect x="117" y="815" width="366" height="30" class="bx"/>
<rect x="117" y="853" width="366" height="30" class="bx"/>
<rect x="117" y="892" width="366" height="30" class="bx"/>
<text x="82" y="940" text-anchor="middle" class="dl">Dosage</text>
<text x="83" y="960" text-anchor="middle" class="dl">(mg/kg/d)</text>
<g text-anchor="middle">
<text transform="translate(142,938) rotate(-30)" class="dl">0</text>
<text transform="translate(170,947) rotate(-30)" class="dl">0.004</text>
<text transform="translate(213,943) rotate(-30)" class="dl">0.02</text>
<text transform="translate(252,942) rotate(-30)" class="dl">0.1</text>
<text transform="translate(287,942) rotate(-30)" class="dl">0.5</text>
<text transform="translate(330,938) rotate(-30)" class="dl">0</text>
<text transform="translate(352,947) rotate(-30)" class="dl">0.004</text>
<text transform="translate(393,943) rotate(-30)" class="dl">0.02</text>
<text transform="translate(433,942) rotate(-30)" class="dl">0.1</text>
<text transform="translate(470,942) rotate(-30)" class="dl">0.5</text>
</g>
<path d="M137 962H302M317 962H482" stroke="#000" stroke-width="2"/>
<text x="219" y="984" text-anchor="middle" style="font-size:22px">Male</text>
<text x="408" y="984" text-anchor="middle" style="font-size:22px">Female</text>

<!-- ============ CHART SULT2A1 ============ -->
<rect x="563" y="708" width="269" height="202" fill="#e9ebf4"/>
<path d="M612.5 708V911M667.5 708V911M722.5 708V911M777.5 708V911" stroke="#fff" stroke-width="1.5"/>
<rect class="m" x="569" y="870.4" width="16" height="40.6"/>
<rect class="m" x="624" y="874.5" width="16" height="36.5"/>
<rect class="m" x="679" y="879.7" width="16" height="31.3"/>
<rect class="m" x="734" y="870.4" width="16" height="40.6"/>
<rect class="m" x="789" y="876.5" width="16" height="34.5"/>
<rect class="f" x="585" y="870.4" width="16" height="40.6"/>
<rect class="f" x="640" y="880.5" width="16" height="30.5"/>
<rect class="f" x="695" y="879.3" width="16" height="31.7"/>
<rect class="f" x="750" y="887.5" width="16" height="23.5"/>
<rect class="f" x="805" y="890.7" width="16" height="20.3"/>
<path class="er" d="M632 874.5V870.4M628 870.4H636M687 879.7V874.8M683 874.8H691M742 870.4V868.8M738 868.8H746M797 876.5V874.5M793 874.5H801M648 880.5V873.6M644 873.6H652M703 879.3V876.9M699 876.9H707M758 887.5V885.1M754 885.1H762M813 890.7V887.9M809 887.9H817"/>
<path class="ax" d="M562 708V911H832M557 911H562M557 870.4H562M557 829.8H562M557 789.2H562M557 748.6H562M557 708H562M585 911V916M640 911V916M695 911V916M750 911V916M805 911V916"/>
<g text-anchor="middle">
<text class="ml" x="578" y="869.4">A</text><text class="fl" x="593" y="869.4">B</text>
<text class="ml" x="633" y="866.4">A</text>
<text class="ml" x="688" y="870.8">A</text>
<text class="ml" x="743" y="864.8">A</text><text class="fl" x="758" y="881.1">A</text>
<text class="ml" x="798" y="870.5">A</text><text class="fl" x="813" y="883.9">A</text>
<text class="ast" x="753" y="838">**</text><text class="ast" x="806" y="843">**</text>
</g>
<text class="fl" x="638" y="869.6">AB</text><text class="fl" x="693" y="872.9">AB</text>
<path class="sg" d="M735 842H771M788 846H825"/>
<g text-anchor="end"><text class="tk" x="554" y="917">0</text><text class="tk" x="554" y="876.4">1</text><text class="tk" x="554" y="835.8">2</text><text class="tk" x="554" y="795.2">3</text><text class="tk" x="554" y="754.6">4</text><text class="tk" x="554" y="714">5</text></g>
<g text-anchor="middle"><text class="tk" x="585" y="941">0</text><text class="tk" x="640" y="941">0.004</text><text class="tk" x="695" y="941">0.02</text><text class="tk" x="750" y="941">0.1</text><text class="tk" x="805" y="941">0.5</text></g>
<text class="xt" x="693" y="968" text-anchor="middle">Dosage(mg/kg/d)</text>
<text class="yl" transform="translate(530,808) rotate(-90)" text-anchor="middle">Protein fold change</text>
<rect class="m" x="569" y="717" width="21" height="20"/><rect class="f" x="569" y="740" width="21" height="18"/>
<text class="lg" x="602" y="735">Male</text><text class="lg" x="602" y="757">Female</text>
<text class="s" x="748" y="727" text-anchor="middle">SULT2A1</text>
<text class="s" x="706" y="747">P<tspan font-size="11" dy="4">sex</tspan><tspan dy="-4"> = 0.003</tspan></text>
<text class="s" x="706" y="767">P<tspan font-size="11" dy="4">con.</tspan><tspan dy="-4"> = 0.016</tspan></text>
<text class="s" x="706" y="787">P<tspan font-size="11" dy="4">inter.</tspan><tspan dy="-4"> = 0.054</tspan></text>

<!-- ============ CHART SLCO1A4 ============ -->
<rect x="903" y="708" width="269" height="202" fill="#e9ebf4"/>
<path d="M952.5 708V911M1007.5 708V911M1062.5 708V911M1117.5 708V911" stroke="#fff" stroke-width="1.5"/>
<rect class="m" x="909" y="870.4" width="16" height="40.6"/>
<rect class="m" x="964" y="879.3" width="16" height="31.7"/>
<rect class="m" x="1019" y="880.5" width="16" height="30.5"/>
<rect class="m" x="1074" y="878.5" width="16" height="32.5"/>
<rect class="m" x="1129" y="883.4" width="16" height="27.6"/>
<rect class="f" x="925" y="870.4" width="16" height="40.6"/>
<rect class="f" x="980" y="874.5" width="16" height="36.5"/>
<rect class="f" x="1035" y="881.8" width="16" height="29.2"/>
<rect class="f" x="1090" y="885.4" width="16" height="25.6"/>
<rect class="f" x="1145" y="892.7" width="16" height="18.3"/>
<path class="er" d="M972 879.3V878.1M968 878.1H976M1027 880.5V877.3M1023 877.3H1031M1082 878.5V875.7M1078 875.7H1086M1137 883.4V882.2M1133 882.2H1141M988 874.5V871.2M984 871.2H992M1043 881.8V880.6M1039 880.6H1047M1098 885.4V884.2M1094 884.2H1102M1153 892.7V890.7M1149 890.7H1157"/>
<path class="ax" d="M902 708V911H1172M897 911H902M897 870.4H902M897 829.8H902M897 789.2H902M897 748.6H902M897 708H902M925 911V916M980 911V916M1035 911V916M1090 911V916M1145 911V916"/>
<g text-anchor="middle">
<text class="ml" x="918" y="869.4">B</text><text class="fl" x="933" y="869.4">D</text>
<text class="ml" x="973" y="874.1">A</text>
<text class="ml" x="1028" y="873.3">A</text>
<text class="ml" x="1083" y="871.7">A</text><text class="fl" x="1098" y="880.2">A</text>
<text class="ml" x="1138" y="878.2">A</text><text class="fl" x="1153" y="886.7">A</text>
<text class="ast" x="1094" y="846">**</text><text class="ast" x="1145" y="852">***</text>
</g>
<text class="fl" x="978" y="867.2">DC</text><text class="fl" x="1033" y="876.6">BC</text>
<path class="sg" d="M1076 849H1112M1127 855H1163"/>
<g text-anchor="end"><text class="tk" x="894" y="917">0</text><text class="tk" x="894" y="876.4">1</text><text class="tk" x="894" y="835.8">2</text><text class="tk" x="894" y="795.2">3</text><text class="tk" x="894" y="754.6">4</text><text class="tk" x="894" y="714">5</text></g>
<g text-anchor="middle"><text class="tk" x="925" y="941">0</text><text class="tk" x="980" y="941">0.004</text><text class="tk" x="1035" y="941">0.02</text><text class="tk" x="1090" y="941">0.1</text><text class="tk" x="1145" y="941">0.5</text></g>
<text class="xt" x="1037" y="968" text-anchor="middle">Dosage(mg/kg/d)</text>
<text class="yl" transform="translate(870,808) rotate(-90)" text-anchor="middle">Protein fold change</text>
<rect class="m" x="908" y="718" width="22" height="19"/><rect class="f" x="908" y="741" width="22" height="18"/>
<text class="lg" x="942" y="736">Male</text><text class="lg" x="942" y="758">Female</text>
<text class="s" x="1090" y="727" text-anchor="middle">SLCO1A4</text>
<text class="s" x="1043" y="747">P<tspan font-size="11" dy="4">sex</tspan><tspan dy="-4"> = 0.010</tspan></text>
<text class="s" x="1043" y="767">P<tspan font-size="11" dy="4">con.</tspan><tspan dy="-4"> = 3.634E-09</tspan></text>
<text class="s" x="1043" y="787">P<tspan font-size="11" dy="4">inter.</tspan><tspan dy="-4"> = 0.003</tspan></text>

<!-- ============ CHART SLC10A1 ============ -->
<rect x="76" y="1043" width="269" height="202" fill="#e9ebf4"/>
<path d="M125.5 1043V1246M180.5 1043V1246M235.5 1043V1246M290.5 1043V1246" stroke="#fff" stroke-width="1.5"/>
<rect class="m" x="82" y="1205.4" width="16" height="40.6"/>
<rect class="m" x="137" y="1213.5" width="16" height="32.5"/>
<rect class="m" x="192" y="1220.4" width="16" height="25.6"/>
<rect class="m" x="247" y="1223.3" width="16" height="22.7"/>
<rect class="m" x="302" y="1231" width="16" height="15"/>
<rect class="f" x="98" y="1205.4" width="16" height="40.6"/>
<rect class="f" x="153" y="1211.5" width="16" height="34.5"/>
<rect class="f" x="208" y="1222.5" width="16" height="23.5"/>
<rect class="f" x="263" y="1229.8" width="16" height="16.2"/>
<rect class="f" x="318" y="1237.9" width="16" height="8.1"/>
<path class="er" d="M145 1213.5V1211.5M141 1211.5H149M200 1220.4V1218.4M196 1218.4H204M255 1223.3V1221.3M251 1221.3H259M310 1231V1229.4M306 1229.4H314M161 1211.5V1210.3M157 1210.3H165M216 1222.5V1221.3M212 1221.3H220M271 1229.8V1229M267 1229H275M326 1237.9V1236.7M322 1236.7H330"/>
<path class="ax" d="M75 1043V1246H345M70 1246H75M70 1205.4H75M70 1164.8H75M70 1124.2H75M70 1083.6H75M70 1043H75M98 1246V1251M153 1246V1251M208 1246V1251M263 1246V1251M318 1246V1251"/>
<g text-anchor="middle">
<text class="ml" x="91" y="1204.4">E</text><text class="fl" x="106" y="1204.4">E</text>
<text class="ml" x="146" y="1207.5">D</text><text class="fl" x="161" y="1206.3">D</text>
<text class="ml" x="201" y="1214.4">C</text><text class="fl" x="216" y="1217.3">C</text>
<text class="ml" x="256" y="1217.3">B</text><text class="fl" x="271" y="1225">B</text>
<text class="ml" x="311" y="1225.4">A</text><text class="fl" x="326" y="1232.7">A</text>
<text class="ast" x="266" y="1187">***</text><text class="ast" x="320" y="1197">***</text>
</g>
<path class="sg" d="M248 1192H284M302 1201H337"/>
<g text-anchor="end"><text class="tk" x="67" y="1252">0</text><text class="tk" x="67" y="1211.4">1</text><text class="tk" x="67" y="1170.8">2</text><text class="tk" x="67" y="1130.2">3</text><text class="tk" x="67" y="1089.6">4</text><text class="tk" x="67" y="1049">5</text></g>
<g text-anchor="middle"><text class="tk" x="98" y="1275">0</text><text class="tk" x="153" y="1275">0.004</text><text class="tk" x="208" y="1275">0.02</text><text class="tk" x="263" y="1275">0.1</text><text class="tk" x="318" y="1275">0.5</text></g>
<text class="xt" x="209" y="1302" text-anchor="middle">Dosage(mg/kg/d)</text>
<text class="yl" transform="translate(40,1142) rotate(-90)" text-anchor="middle">Protein fold change</text>
<rect class="m" x="82" y="1052" width="20" height="19"/><rect class="f" x="82" y="1075" width="20" height="18"/>
<text class="lg" x="115" y="1069">Male</text><text class="lg" x="115" y="1091">Female</text>
<text class="s" x="260" y="1063" text-anchor="middle">SLC10A1</text>
<text class="s" x="218" y="1082">P<tspan font-size="11" dy="4">sex</tspan><tspan dy="-4"> = 0.001</tspan></text>
<text class="s" x="218" y="1102">P<tspan font-size="11" dy="4">con.</tspan><tspan dy="-4"> = 2.731E-19</tspan></text>
<text class="s" x="218" y="1122">P<tspan font-size="11" dy="4">inter.</tspan><tspan dy="-4"> = 0.002</tspan></text>

<!-- ============ COMBINED CHART ============ -->
<rect x="425" y="1043" width="812" height="202" fill="#e9ebf4"/>
<path d="M475.5 1043V1246M530.5 1043V1246M585.5 1043V1246M640.5 1043V1246M745.5 1043V1246M800.5 1043V1246M855.5 1043V1246M910.5 1043V1246M1015.5 1043V1246M1070.5 1043V1246M1125.5 1043V1246M1180.5 1043V1246" stroke="#fff" stroke-width="1.5"/>
<path d="M696 1043V1246M968 1043V1246" stroke="#333" stroke-width="1.5"/>
<rect class="m" x="432" y="1235.9" width="16" height="10.1"/>
<rect class="m" x="487" y="1237.4" width="16" height="8.6"/>
<rect class="m" x="542" y="1238.4" width="16" height="7.6"/>
<rect class="m" x="597" y="1230.8" width="16" height="15.2"/>
<rect class="m" x="652" y="1207.4" width="16" height="38.6"/>
<rect class="f" x="448" y="1235.9" width="16" height="10.1"/>
<rect class="f" x="503" y="1237.4" width="16" height="8.6"/>
<rect class="f" x="558" y="1236.9" width="16" height="9.1"/>
<rect class="f" x="613" y="1221.1" width="16" height="24.9"/>
<rect class="f" x="668" y="1194.7" width="16" height="51.3"/>
<rect class="m" x="702" y="1235.9" width="16" height="10.1"/>
<rect class="m" x="757" y="1238.9" width="16" height="7.1"/>
<rect class="m" x="812" y="1236.7" width="16" height="9.3"/>
<rect class="m" x="867" y="1224.7" width="16" height="21.3"/>
<rect class="m" x="922" y="1206.4" width="16" height="39.6"/>
<rect class="f" x="718" y="1235.9" width="16" height="10.1"/>
<rect class="f" x="773" y="1235.3" width="16" height="10.7"/>
<rect class="f" x="828" y="1230.3" width="16" height="15.7"/>
<rect class="f" x="883" y="1215.6" width="16" height="30.4"/>
<rect class="f" x="938" y="1190.2" width="16" height="55.8"/>
<rect class="m" x="972" y="1235.9" width="16" height="10.1"/>
<rect class="m" x="1027" y="1238.4" width="16" height="7.6"/>
<rect class="m" x="1082" y="1238.4" width="16" height="7.6"/>
<rect class="m" x="1137" y="1234" width="16" height="12"/>
<rect class="m" x="1192" y="1232.3" width="16" height="13.7"/>
<rect class="f" x="988" y="1235.9" width="16" height="10.1"/>
<rect class="f" x="1043" y="1236.7" width="16" height="9.3"/>
<rect class="f" x="1098" y="1236.7" width="16" height="9.3"/>
<rect class="f" x="1153" y="1228.3" width="16" height="17.7"/>
<rect class="f" x="1208" y="1215" width="16" height="31"/>
<path class="er" d="M495 1237.4V1236.9M491 1236.9H499M550 1238.4V1237.4M546 1237.4H554M605 1230.8V1229.8M601 1229.8H609M660 1207.4V1204.4M656 1204.4H664M511 1237.4V1236.4M507 1236.4H515M566 1236.9V1235.9M562 1235.9H570M621 1221.1V1217.6M617 1217.6H625M676 1194.7V1190.6M672 1190.6H680M765 1238.9V1235.9M761 1235.9H769M820 1236.7V1232.6M816 1232.6H824M875 1224.7V1220.6M871 1220.6H879M930 1206.4V1201.3M926 1201.3H934M781 1235.3V1234.3M777 1234.3H785M836 1230.3V1228.3M832 1228.3H840M891 1215.6V1213.6M887 1213.6H895M946 1190.2V1186.1M942 1186.1H950M1035 1238.4V1237.4M1031 1237.4H1039M1090 1238.4V1237.4M1086 1237.4H1094M1145 1234V1233M1141 1233H1149M1200 1232.3V1230.8M1196 1230.8H1204M1051 1236.7V1235.7M1047 1235.7H1055M1106 1236.7V1235.2M1102 1235.2H1110M1161 1228.3V1225.8M1157 1225.8H1165M1216 1215V1211.5M1212 1211.5H1220"/>
<path class="ax" d="M424 1043V1246H1237M419 1246H424M419 1195.25H424M419 1144.5H424M419 1093.75H424M419 1043H424M448 1246V1251M503 1246V1251M558 1246V1251M613 1246V1251M668 1246V1251M718 1246V1251M773 1246V1251M828 1246V1251M883 1246V1251M938 1246V1251M988 1246V1251M1043 1246V1251M1098 1246V1251M1153 1246V1251M1208 1246V1251"/>
<g text-anchor="middle">
<text class="ml" x="441" y="1234.9">A</text><text class="fl" x="456" y="1234.9">A</text>
<text class="ml" x="496" y="1232.9">A</text><text class="fl" x="511" y="1232.4">A</text>
<text class="ml" x="551" y="1233.4">A</text><text class="fl" x="566" y="1231.9">A</text>
<text class="ml" x="606" y="1225.8">B</text><text class="fl" x="621" y="1213.6">B</text>
<text class="ml" x="661" y="1200.4">C</text><text class="fl" x="676" y="1186.6">C</text>
<text class="ml" x="711" y="1234.9">A</text><text class="fl" x="726" y="1234.9">A</text>
<text class="ml" x="766" y="1231.9">A</text><text class="fl" x="781" y="1230.3">A</text>
<text class="ml" x="821" y="1228.6">A</text><text class="fl" x="836" y="1224.3">A</text>
<text class="ml" x="876" y="1216.6">B</text><text class="fl" x="891" y="1209.6">B</text>
<text class="ml" x="931" y="1197.3">C</text><text class="fl" x="946" y="1182.1">C</text>
<text class="ml" x="981" y="1234.9">A</text><text class="fl" x="996" y="1234.9">A</text>
<text class="ml" x="1036" y="1233.4">A</text><text class="fl" x="1051" y="1231.7">A</text>
<text class="ml" x="1091" y="1233.4">A</text><text class="fl" x="1106" y="1231.2">A</text>
<text class="ml" x="1146" y="1229">B</text><text class="fl" x="1161" y="1221.8">B</text>
<text class="ml" x="1201" y="1226.8">C</text><text class="fl" x="1216" y="1207.5">C</text>
<text class="ast" x="614" y="1184">***</text><text class="ast" x="669" y="1156">***</text>
<text class="ast" x="832" y="1197">*</text><text class="ast" x="885" y="1181">***</text><text class="ast" x="941" y="1153">***</text>
<text class="ast" x="1156" y="1194">***</text><text class="ast" x="1212" y="1179">***</text>
<text x="1101" y="1198" style="font-size:16px"><tspan font-style="italic">p</tspan> = 0.08</text>
</g>
<path class="sg" d="M595 1188H633M651 1160H687M813 1202H850M867 1184H903M923 1157H959M1083 1207H1120M1138 1198H1174M1194 1183H1230"/>
<g text-anchor="end"><text class="tk" x="416" y="1252">0</text><text class="tk" x="416" y="1201.25">5</text><text class="tk" x="416" y="1150.5">10</text><text class="tk" x="416" y="1099.75">15</text><text class="tk" x="416" y="1049">20</text></g>
<g text-anchor="middle">
<text class="tk" x="448" y="1275">0</text><text class="tk" x="503" y="1275">0.004</text><text class="tk" x="558" y="1275">0.02</text><text class="tk" x="613" y="1275">0.1</text><text class="tk" x="668" y="1275">0.5</text>
<text class="tk" x="718" y="1275">0</text><text class="tk" x="773" y="1275">0.004</text><text class="tk" x="828" y="1275">0.02</text><text class="tk" x="883" y="1275">0.1</text><text class="tk" x="938" y="1275">0.5</text>
<text class="tk" x="988" y="1275">0</text><text class="tk" x="1043" y="1275">0.004</text><text class="tk" x="1098" y="1275">0.02</text><text class="tk" x="1153" y="1275">0.1</text><text class="tk" x="1208" y="1275">0.5</text>
<text class="xt" x="560" y="1302">Dosage(mg/kg/d)</text><text class="xt" x="831" y="1302">Dosage(mg/kg/d)</text><text class="xt" x="1102" y="1302">Dosage(mg/kg/d)</text>
</g>
<text class="yl" transform="translate(382,1142) rotate(-90)" text-anchor="middle">Protein fold change</text>
<rect class="m" x="431" y="1052" width="21" height="19"/><rect class="f" x="431" y="1075" width="21" height="18"/>
<text class="lg" x="465" y="1069">Male</text><text class="lg" x="465" y="1091">Female</text>
<rect class="m" x="703" y="1052" width="21" height="19"/><rect class="f" x="703" y="1075" width="21" height="18"/>
<text class="lg" x="737" y="1069">Male</text><text class="lg" x="737" y="1091">Female</text>
<rect class="m" x="973" y="1052" width="22" height="19"/><rect class="f" x="973" y="1075" width="22" height="18"/>
<text class="lg" x="1008" y="1069">Male</text><text class="lg" x="1008" y="1091">Female</text>
<text class="s" x="617" y="1063" text-anchor="middle">SLCO1A1</text>
<text class="s" x="558" y="1082">P<tspan font-size="11" dy="4">sex</tspan><tspan dy="-4"> = 6.000E-06</tspan></text>
<text class="s" x="558" y="1102">P<tspan font-size="11" dy="4">con.</tspan><tspan dy="-4"> = 1.410E-19</tspan></text>
<text class="s" x="558" y="1122">P<tspan font-size="11" dy="4">inter.</tspan><tspan dy="-4"> = 1.160E-04</tspan></text>
<text class="s" x="899" y="1063" text-anchor="middle">ABCC4</text>
<text class="s" x="837" y="1082">P<tspan font-size="11" dy="4">sex</tspan><tspan dy="-4"> = 3.000E-06</tspan></text>
<text class="s" x="837" y="1102">P<tspan font-size="11" dy="4">con.</tspan><tspan dy="-4"> = 5.000E-17</tspan></text>
<text class="s" x="837" y="1122">P<tspan font-size="11" dy="4">inter.</tspan><tspan dy="-4"> = 0.003</tspan></text>
<text class="s" x="1160" y="1063" text-anchor="middle">EPHX1</text>
<text class="s" x="1100" y="1082">P<tspan font-size="11" dy="4">sex</tspan><tspan dy="-4"> = 6.300E-05</tspan></text>
<text class="s" x="1100" y="1102">P<tspan font-size="11" dy="4">con.</tspan><tspan dy="-4"> = 2.613E-09</tspan></text>
<text class="s" x="1100" y="1122">P<tspan font-size="11" dy="4">inter.</tspan><tspan dy="-4"> = 6.900E-05</tspan></text>

<!-- ============ SECTION C ============ -->
<text x="27" y="1380" style="font-size:22px">C</text>
<path d="M389 1385V1357H1077V1470" class="ln" stroke-width="2"/>
<polygon points="1071,1468 1083,1468 1077,1480" fill="#000"/>
<path d="M283 1407L285 1429M290 1404L292 1432M297 1407L299 1429M328 1407L330 1429M335 1404L337 1432M342 1407L344 1429M373 1407L375 1429M380 1404L382 1432" stroke="#2a5caa" stroke-width="2"/>
<path d="M267 1418Q289.5 1378 312 1418T357 1418T402 1418Q413 1438 426 1440" stroke="#7ec6df" stroke-width="3.5" fill="none"/>
<path d="M267 1418Q289.5 1458 312 1418T357 1418T402 1418Q413 1398 420 1402" stroke="#ee7a70" stroke-width="3.5" fill="none"/>
<polygon fill="#ee0000" points="406,1416 395.7,1413.9 403.6,1407 393.7,1410.3 397,1400.4 390.1,1408.3 388,1398 385.9,1408.3 379,1400.4 382.3,1410.3 372.4,1407 380.3,1413.9 370,1416 380.3,1418.1 372.4,1425 382.3,1421.7 379,1431.6 385.9,1423.7 388,1434 390.1,1423.7 397,1431.6 393.7,1421.7 403.6,1425 395.7,1418.1"/>
<text x="331" y="1465" text-anchor="middle" style="font-size:21px">Activated PPAR</text>
<text x="331" y="1487" text-anchor="middle" style="font-size:21px">pathway</text>
<text x="109" y="1466" text-anchor="middle" style="font-size:23px;fill:#7030a0">PFDMO2HpA</text>
<g fill="#8e4fb0" stroke="#3a2a70" stroke-width="1">
<circle cx="99" cy="1503" r="12"/><circle cx="127" cy="1521" r="12"/><circle cx="66" cy="1545" r="12"/><circle cx="106" cy="1548" r="12"/><circle cx="137" cy="1569" r="12"/>
</g>
<path d="M100 1566C80 1570 70 1595 75 1615C80 1635 100 1645 120 1641C132 1638 133 1628 125 1622C112 1615 100 1612 97 1600C95 1588 108 1580 118 1585C125 1588 128 1580 122 1575C115 1568 108 1565 100 1566Z" fill="#c2c2c2" stroke="#2a3a6a" stroke-width="1.2"/>
<circle cx="107" cy="1599" r="12" fill="#8e4fb0" stroke="#3a2a70" stroke-width="1"/>
<text x="101" y="1673" text-anchor="middle" style="font-size:23px">PPARα</text>
<polygon points="158,1550 172,1550 187,1573 172,1597 158,1597" fill="#8a8a8a"/>
<polygon points="449,1540 463,1540 478,1563 463,1586 449,1586" fill="#8a8a8a"/>
<polygon points="936,1533 949,1533 962,1555 949,1577 936,1577" fill="#8a8a8a"/>
<path d="M224 1540V1554M230 1538V1556M236 1540V1554M251 1540V1554M257 1538V1556M263 1540V1554M278 1540V1554M284 1538V1556M359 1540V1554M365 1538V1556M371 1540V1554M386 1540V1554M392 1538V1556M398 1540V1554M413 1540V1554M419 1538V1556" stroke="#c9a23a" stroke-width="1.5"/>
<path d="M216 1547Q229.5 1523 243 1547T270 1547T297 1547M216 1547Q229.5 1571 243 1547T270 1547T297 1547M351 1547Q364.5 1523 378 1547T405 1547T432 1547M351 1547Q364.5 1571 378 1547T405 1547T432 1547" stroke="#c9a23a" stroke-width="3" fill="none"/>
<text x="260" y="1584" text-anchor="middle" style="font-size:16px">Downregulated</text>
<text x="260" y="1606" text-anchor="middle" style="font-size:16px">ER</text>
<text x="387" y="1584" text-anchor="middle" style="font-size:16px">Upregulated</text>
<text x="387" y="1606" text-anchor="middle" style="font-size:16px">AR</text>
<path d="M291 1500L279 1530M269 1528L289 1534M329 1498V1643M320 1643H338M281 1612L294 1640M284 1643L303 1640" class="ln" stroke-width="2"/>
<path d="M376 1615L366 1640" class="ln" stroke-width="2" marker-end="url(#ah)"/>
<path d="M284 1664V1688M292 1661V1691M300 1664V1688M326 1664V1688M334 1661V1691M342 1664V1688M368 1664V1688M376 1661V1691M384 1664V1688" stroke="#b8b8b8" stroke-width="1.5"/>
<path d="M271 1676Q292 1640 313 1676T355 1676T397 1676M271 1676Q292 1712 313 1676T355 1676T397 1676" stroke="#b5b5b5" stroke-width="3.5" fill="none"/>
<text x="326" y="1729" text-anchor="middle" style="font-size:22px">Inhibited FXR pathway</text>
<rect x="492" y="1398" width="28" height="14" rx="3" fill="none" stroke="#888" stroke-width="1.5"/>
<text x="528" y="1407" style="font-size:15px">Protein</text>
<ellipse cx="611" cy="1405" rx="13" ry="7" fill="none" stroke="#888" stroke-width="1.5"/>
<text x="630" y="1407" style="font-size:15px">mRNA</text>
<path d="M777 1412V1398" stroke="#6aa0d8" stroke-width="2"/><polygon points="773,1400 781,1400 777,1393" fill="#6aa0d8"/>
<text x="785" y="1407" style="font-size:15px">Male</text>
<path d="M840 1412V1398" stroke="#f08a80" stroke-width="2"/><polygon points="836,1400 844,1400 840,1393" fill="#f08a80"/>
<text x="848" y="1407" style="font-size:15px">Female</text>
<rect x="489" y="1427" width="436" height="258" fill="#eef0f7" stroke="#6a82b0" stroke-width="1.5"/>
<rect x="490" y="1428" width="103" height="256" fill="#e8ebf5"/>
<rect x="813" y="1428" width="111" height="256" fill="#e9e9ee"/>
<path d="M593 1427V1685M813 1427V1685" stroke="#6a82b0" stroke-width="1.5"/>
<text transform="translate(518,1571) rotate(-90)" text-anchor="middle" style="font-size:18px">Bile acids</text>
<text transform="translate(900,1565) rotate(90)" text-anchor="middle" style="font-size:18px">Bile acids</text>
<text x="717" y="1449" text-anchor="middle" style="font-size:17px">Cholesterol</text>
<g fill="#999">
<rect x="549" y="1475" width="91" height="23"/><rect x="549" y="1515" width="91" height="23"/><rect x="549" y="1555" width="91" height="23"/><rect x="549" y="1595" width="91" height="23"/><rect x="549" y="1635" width="91" height="23"/>
<rect x="671" y="1473" width="94" height="23"/><rect x="671" y="1507" width="94" height="23"/><rect x="671" y="1630" width="94" height="23"/>
</g>
<rect class="pb" x="547" y="1473" width="91" height="23"/>
<rect class="pb" x="547" y="1513" width="91" height="23"/>
<rect class="pb" x="547" y="1553" width="91" height="23"/>
<rect class="pb" x="547" y="1593" width="91" height="23"/>
<rect class="pb" x="547" y="1633" width="91" height="23"/>
<rect class="pb" x="669" y="1471" width="94" height="23"/>
<rect class="pb" x="669" y="1505" width="94" height="23"/>
<rect class="pb" x="669" y="1628" width="94" height="23"/>
<ellipse class="pb" cx="717" cy="1597" rx="47" ry="11"/>
<ellipse class="pb" cx="826" cy="1560" rx="45" ry="11"/>
<text class="pt" x="553" y="1490">EPHX1</text>
<text class="pt" x="551" y="1530">SLCO1A1</text>
<text class="pt" x="551" y="1570">SLCO1A4</text>
<text class="pt" x="551" y="1610">SLC10A1</text>
<text class="pt" x="553" y="1650">ABCC4</text>
<text class="pt" x="674" y="1488">CYP7A1</text>
<text class="pt" x="674" y="1522">CYP8B1</text>
<text class="pt" x="672" y="1645">SULT2A1</text>
<text class="pt" x="683" y="1602" font-style="italic">Sult2a5</text>
<text class="pt" x="796" y="1565" font-style="italic">Abcg2</text>
<g style="font-size:17px">
<text x="619" y="1491" fill="#4a8fd5">↑</text><text x="628" y="1491" fill="#f07070">↑</text>
<text x="619" y="1531" fill="#4a8fd5">↑</text><text x="628" y="1531" fill="#f07070">↑</text>
<text x="619" y="1571" fill="#4a8fd5">↓</text><text x="628" y="1571" fill="#f07070">↓</text>
<text x="619" y="1611" fill="#4a8fd5">↓</text><text x="628" y="1611" fill="#f07070">↓</text>
<text x="619" y="1651" fill="#4a8fd5">↑</text><text x="628" y="1651" fill="#f07070">↑</text>
<text x="743" y="1489" fill="#4a8fd5">↑</text><text x="752" y="1489" fill="#f07070">↑</text>
<text x="743" y="1523" fill="#4a8fd5">↑</text><text x="752" y="1523" fill="#f07070">↑</text>
<text x="741" y="1646" fill="#4a8fd5">=</text><text x="752" y="1646" fill="#f07070">↓</text>
<text x="738" y="1603" fill="#4a8fd5">=</text>
<text x="847" y="1566" fill="#4a8fd5">↑</text><text x="856" y="1566" fill="#f07070">↑</text>
</g>
<text x="716" y="1566" text-anchor="middle" style="font-size:17px">Bile acids</text>
<path class="ln" d="M533 1484H547M533 1524H547M533 1564H547M533 1604H547M547 1645H537"/>
<polygon points="531,1645 538,1641 538,1649" fill="#000"/>
<g class="ln" marker-end="url(#ah)">
<path d="M638 1484H668"/>
<path d="M638 1520H668"/>
<path d="M638 1564H671"/>
<path d="M638 1602H669"/>
<path d="M669 1644H640"/>
<path d="M716 1494V1505"/>
<path d="M716 1528V1549"/>
<path d="M762 1560H780"/>
<path d="M871 1560H893"/>
<path d="M716 1608V1627"/>
</g>
<text x="541" y="1681" text-anchor="middle" style="font-size:17px;fill:#8a8a8a">Portal vein</text>
<text x="715" y="1681" text-anchor="middle" style="font-size:17px;fill:#e8781e">Hepacoyte</text>
<text x="869" y="1683" text-anchor="middle" style="font-size:17px;fill:#8a8a8a">Biliary tract</text>
<text x="703" y="1729" text-anchor="middle" style="font-size:21px">Disruption of bile acid synthesis and transport</text>
<path d="M964 1485C975 1465 1030 1456 1100 1453C1160 1450 1215 1450 1234 1462C1242 1470 1240 1485 1228 1500C1200 1535 1160 1570 1130 1610C1105 1645 1085 1690 1070 1720C1055 1700 1035 1660 1010 1630C985 1600 965 1570 962 1530C961 1510 960 1495 964 1485Z" fill="#ebbaab"/>
<path d="M1077 1470V1478" stroke="#000" stroke-width="2"/>
<polygon points="1071,1470 1083,1470 1077,1482" fill="#000"/>
<text x="1083" y="1504" text-anchor="middle" style="font-size:23px;fill:#d9131b">Hepatotoxicity</text>
<path d="M1078 1541V1518" stroke="#000" stroke-width="2"/>
<polygon points="1073,1520 1083,1520 1078,1511" fill="#000"/>
<text x="1084" y="1563" text-anchor="middle" style="font-size:23px;fill:#d9131b">Increased Bile acid</text>
</svg>
</body></html>
